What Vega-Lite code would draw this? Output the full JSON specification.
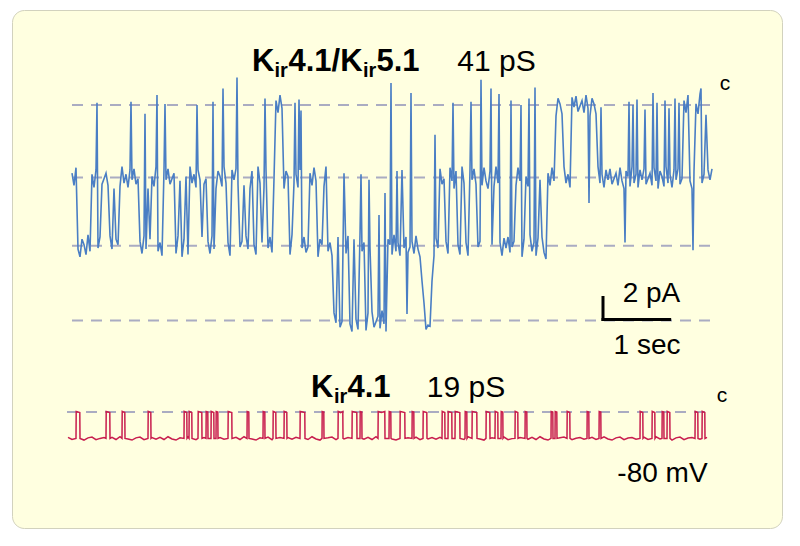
{
"$schema":"https://vega.github.io/schema/vega-lite/v6.json",
"width":800,"height":546,
"autosize":{"type":"fit","contains":"padding"},
"padding":{"left":12,"top":10,"right":18,"bottom":18},
"background":"#ffffff",
"config":{"view":{"fill":"#FFFFE0","stroke":"#D2D2BE","cornerRadius":12},"font":"Liberation Sans"},
"datasets":{
"blue":[{"t":0,"v":-6.2},{"t":30,"v":-7.3},{"t":60,"v":-5.7},{"t":90,"v":-13.1},{"t":120,"v":-13.8},{"t":150,"v":-12.2},{"t":180,"v":-12.7},{"t":210,"v":-13.6},{"t":240,"v":-11.8},{"t":270,"v":-13.3},{"t":300,"v":-6.3},{"t":330,"v":-7.5},{"t":360,"v":-5.9},{"t":375,"v":0.2},{"t":390,"v":-13.0},{"t":420,"v":-12.0},{"t":450,"v":-7.2},{"t":480,"v":-6.7},{"t":510,"v":-6.2},{"t":540,"v":-7.3},{"t":570,"v":-11.9},{"t":600,"v":-13.1},{"t":630,"v":-7.6},{"t":660,"v":-12.2},{"t":690,"v":-12.7},{"t":720,"v":-7.4},{"t":750,"v":-5.6},{"t":780,"v":-7.1},{"t":810,"v":-6.3},{"t":840,"v":-7.5},{"t":870,"v":-5.9},{"t":885,"v":0.3},{"t":900,"v":-6.8},{"t":930,"v":-5.8},{"t":960,"v":-7.2},{"t":990,"v":-6.7},{"t":1020,"v":-12.4},{"t":1050,"v":-13.5},{"t":1080,"v":-11.9},{"t":1095,"v":-0.8},{"t":1110,"v":-13.1},{"t":1140,"v":-7.6},{"t":1170,"v":-12.2},{"t":1200,"v":-6.5},{"t":1230,"v":-7.4},{"t":1260,"v":-5.6},{"t":1275,"v":0.9},{"t":1290,"v":-13.3},{"t":1320,"v":-12.5},{"t":1350,"v":-13.7},{"t":1380,"v":-5.9},{"t":1395,"v":0.1},{"t":1410,"v":-6.8},{"t":1440,"v":-5.8},{"t":1470,"v":-7.2},{"t":1500,"v":-6.7},{"t":1530,"v":-6.2},{"t":1560,"v":-13.5},{"t":1590,"v":-11.9},{"t":1620,"v":-6.9},{"t":1650,"v":-13.8},{"t":1680,"v":-12.2},{"t":1710,"v":-6.5},{"t":1740,"v":-13.6},{"t":1770,"v":-5.6},{"t":1800,"v":-7.1},{"t":1830,"v":-6.3},{"t":1860,"v":-7.5},{"t":1875,"v":0.0},{"t":1890,"v":-5.9},{"t":1920,"v":-6.8},{"t":1950,"v":-12.0},{"t":1980,"v":-7.2},{"t":2010,"v":-6.7},{"t":2040,"v":-12.4},{"t":2070,"v":-13.5},{"t":2100,"v":-11.9},{"t":2115,"v":0.3},{"t":2130,"v":-13.1},{"t":2160,"v":-7.6},{"t":2190,"v":-6.0},{"t":2220,"v":-6.5},{"t":2250,"v":-7.4},{"t":2265,"v":1.5},{"t":2280,"v":-5.6},{"t":2310,"v":-7.1},{"t":2340,"v":-12.5},{"t":2370,"v":-13.7},{"t":2400,"v":-5.9},{"t":2430,"v":-6.8},{"t":2460,"v":-5.8},{"t":2475,"v":2.5},{"t":2490,"v":-7.2},{"t":2520,"v":-12.9},{"t":2550,"v":-12.4},{"t":2580,"v":-7.3},{"t":2610,"v":-11.9},{"t":2640,"v":-13.1},{"t":2670,"v":-7.6},{"t":2700,"v":-6.0},{"t":2730,"v":-12.7},{"t":2760,"v":-13.6},{"t":2790,"v":-5.6},{"t":2820,"v":-7.1},{"t":2850,"v":-12.5},{"t":2880,"v":-7.5},{"t":2895,"v":0.6},{"t":2910,"v":-5.9},{"t":2940,"v":-13.0},{"t":2970,"v":-12.0},{"t":3000,"v":-13.4},{"t":3030,"v":-6.7},{"t":3060,"v":0.4},{"t":3090,"v":-0.7},{"t":3120,"v":0.9},{"t":3150,"v":-0.3},{"t":3180,"v":-7.6},{"t":3210,"v":-6.0},{"t":3240,"v":-6.5},{"t":3270,"v":-13.6},{"t":3300,"v":-11.8},{"t":3330,"v":-7.1},{"t":3345,"v":0.2},{"t":3360,"v":-6.3},{"t":3390,"v":-7.5},{"t":3405,"v":0.5},{"t":3420,"v":-5.9},{"t":3435,"v":-0.5},{"t":3450,"v":-13.0},{"t":3480,"v":-12.0},{"t":3510,"v":-13.4},{"t":3540,"v":-12.9},{"t":3570,"v":-6.2},{"t":3600,"v":-7.3},{"t":3630,"v":-5.7},{"t":3660,"v":-6.9},{"t":3690,"v":-13.8},{"t":3720,"v":-12.2},{"t":3750,"v":-12.7},{"t":3780,"v":-7.4},{"t":3810,"v":-5.6},{"t":3840,"v":-13.3},{"t":3870,"v":-12.5},{"t":3900,"v":-13.7},{"t":3930,"v":-18.9},{"t":3960,"v":-19.8},{"t":3990,"v":-12.0},{"t":4020,"v":-20.2},{"t":4050,"v":-19.7},{"t":4080,"v":-6.2},{"t":4110,"v":-13.5},{"t":4140,"v":-11.9},{"t":4170,"v":-19.9},{"t":4200,"v":-20.6},{"t":4230,"v":-12.2},{"t":4260,"v":-19.5},{"t":4290,"v":-20.4},{"t":4320,"v":-11.8},{"t":4335,"v":-6.3},{"t":4350,"v":-13.3},{"t":4380,"v":-12.5},{"t":4410,"v":-20.5},{"t":4440,"v":-18.9},{"t":4455,"v":-6.8},{"t":4470,"v":-13.0},{"t":4500,"v":-18.8},{"t":4530,"v":-20.2},{"t":4560,"v":-19.7},{"t":4590,"v":-19.2},{"t":4605,"v":-10.0},{"t":4620,"v":-20.3},{"t":4650,"v":-18.7},{"t":4680,"v":-19.9},{"t":4695,"v":-8.0},{"t":4710,"v":-20.6},{"t":4740,"v":-12.2},{"t":4770,"v":-12.7},{"t":4785,"v":2.0},{"t":4800,"v":-13.6},{"t":4830,"v":-11.8},{"t":4860,"v":-13.3},{"t":4875,"v":-6.0},{"t":4890,"v":-12.5},{"t":4920,"v":-13.7},{"t":4950,"v":-5.9},{"t":4980,"v":-13.0},{"t":5010,"v":-12.0},{"t":5025,"v":-19.0},{"t":5040,"v":-13.4},{"t":5070,"v":-12.9},{"t":5085,"v":1.1},{"t":5100,"v":-12.4},{"t":5130,"v":-13.5},{"t":5160,"v":-11.9},{"t":5190,"v":-13.1},{"t":5220,"v":-13.8},{"t":5250,"v":-16.0},{"t":5280,"v":-18.0},{"t":5310,"v":-20.4},{"t":5340,"v":-20.0},{"t":5370,"v":-20.1},{"t":5400,"v":-16.0},{"t":5430,"v":-13.7},{"t":5445,"v":-2.7},{"t":5460,"v":-12.1},{"t":5490,"v":-13.0},{"t":5520,"v":-5.8},{"t":5550,"v":-7.2},{"t":5580,"v":-6.7},{"t":5610,"v":-12.4},{"t":5640,"v":-13.5},{"t":5670,"v":-5.7},{"t":5700,"v":-6.9},{"t":5715,"v":0.2},{"t":5730,"v":-7.6},{"t":5760,"v":-6.0},{"t":5790,"v":-12.7},{"t":5820,"v":-13.6},{"t":5850,"v":-5.6},{"t":5880,"v":-7.1},{"t":5910,"v":-12.5},{"t":5940,"v":-13.7},{"t":5970,"v":-5.9},{"t":5985,"v":0.3},{"t":6000,"v":-6.8},{"t":6030,"v":-5.8},{"t":6060,"v":-7.2},{"t":6090,"v":-12.9},{"t":6120,"v":-12.4},{"t":6135,"v":2.3},{"t":6150,"v":-7.3},{"t":6180,"v":-5.7},{"t":6210,"v":-6.9},{"t":6240,"v":-7.6},{"t":6270,"v":-6.0},{"t":6285,"v":1.5},{"t":6300,"v":-12.7},{"t":6330,"v":-7.4},{"t":6360,"v":-5.6},{"t":6390,"v":-7.1},{"t":6405,"v":1.0},{"t":6420,"v":-12.5},{"t":6450,"v":-13.7},{"t":6480,"v":-12.1},{"t":6510,"v":-13.0},{"t":6540,"v":-12.0},{"t":6570,"v":-13.4},{"t":6585,"v":0.4},{"t":6600,"v":-12.9},{"t":6630,"v":-12.4},{"t":6660,"v":-7.3},{"t":6690,"v":-5.7},{"t":6720,"v":-6.9},{"t":6735,"v":0.0},{"t":6750,"v":-13.8},{"t":6780,"v":-12.2},{"t":6810,"v":-6.5},{"t":6840,"v":-7.4},{"t":6855,"v":0.6},{"t":6870,"v":-11.8},{"t":6900,"v":-13.3},{"t":6930,"v":-12.5},{"t":6945,"v":1.6},{"t":6960,"v":-13.7},{"t":6990,"v":-12.1},{"t":7020,"v":-6.8},{"t":7050,"v":-12.0},{"t":7080,"v":-13.4},{"t":7110,"v":-14.0},{"t":7140,"v":-6.2},{"t":7170,"v":-7.3},{"t":7200,"v":-5.7},{"t":7230,"v":-6.9},{"t":7260,"v":-1.0},{"t":7290,"v":0.6},{"t":7320,"v":0.1},{"t":7350,"v":-0.8},{"t":7380,"v":-5.6},{"t":7410,"v":-7.1},{"t":7440,"v":-6.3},{"t":7470,"v":-7.5},{"t":7500,"v":0.7},{"t":7530,"v":-0.2},{"t":7560,"v":0.8},{"t":7590,"v":-0.6},{"t":7620,"v":-0.1},{"t":7650,"v":0.4},{"t":7680,"v":-0.7},{"t":7710,"v":0.9},{"t":7740,"v":-0.3},{"t":7755,"v":-8.9},{"t":7770,"v":-1.0},{"t":7800,"v":0.6},{"t":7830,"v":0.1},{"t":7860,"v":-0.8},{"t":7890,"v":-5.6},{"t":7920,"v":-7.1},{"t":7935,"v":-0.2},{"t":7950,"v":-6.3},{"t":7980,"v":-7.5},{"t":8010,"v":-5.9},{"t":8040,"v":-6.8},{"t":8070,"v":-5.8},{"t":8100,"v":-7.2},{"t":8130,"v":-6.7},{"t":8160,"v":-6.2},{"t":8190,"v":-7.3},{"t":8220,"v":-5.7},{"t":8250,"v":-6.9},{"t":8280,"v":-7.6},{"t":8295,"v":-12.5},{"t":8310,"v":-6.0},{"t":8340,"v":-6.5},{"t":8355,"v":0.3},{"t":8370,"v":-7.4},{"t":8400,"v":-5.6},{"t":8415,"v":0.0},{"t":8430,"v":-7.1},{"t":8460,"v":-6.3},{"t":8475,"v":0.5},{"t":8490,"v":-7.5},{"t":8520,"v":-5.9},{"t":8550,"v":-6.8},{"t":8580,"v":-5.8},{"t":8595,"v":-0.4},{"t":8610,"v":-7.2},{"t":8640,"v":-6.7},{"t":8670,"v":-6.2},{"t":8700,"v":-7.3},{"t":8715,"v":1.1},{"t":8730,"v":-5.7},{"t":8760,"v":-6.9},{"t":8775,"v":0.2},{"t":8790,"v":-7.6},{"t":8820,"v":-6.0},{"t":8850,"v":-6.5},{"t":8880,"v":-7.4},{"t":8895,"v":0.4},{"t":8910,"v":-5.6},{"t":8940,"v":-7.1},{"t":8955,"v":-0.3},{"t":8970,"v":-6.3},{"t":9000,"v":-7.5},{"t":9030,"v":-5.9},{"t":9045,"v":0.6},{"t":9060,"v":-6.8},{"t":9090,"v":-5.8},{"t":9105,"v":0.2},{"t":9120,"v":-7.2},{"t":9150,"v":-6.7},{"t":9180,"v":0.4},{"t":9210,"v":-0.7},{"t":9240,"v":0.9},{"t":9270,"v":-6.9},{"t":9300,"v":-7.6},{"t":9315,"v":-13.2},{"t":9330,"v":-6.0},{"t":9360,"v":0.1},{"t":9390,"v":-0.8},{"t":9420,"v":1.0},{"t":9435,"v":1.5},{"t":9450,"v":-7.1},{"t":9480,"v":-6.3},{"t":9510,"v":-0.9},{"t":9540,"v":-5.9},{"t":9570,"v":-6.8},{"t":9600,"v":-5.8}],
"red":[{"t":-60,"v":-2.3},{"t":0,"v":-2.5},{"t":60,"v":-2.4},{"t":63,"v":0.05},{"t":117,"v":-0.05},{"t":120,"v":-2.4},{"t":180,"v":-2.55},{"t":240,"v":-2.35},{"t":300,"v":-2.28},{"t":360,"v":-2.52},{"t":420,"v":-2.4},{"t":480,"v":-2.32},{"t":510,"v":-2.4},{"t":513,"v":0.05},{"t":567,"v":-0.05},{"t":570,"v":-2.4},{"t":600,"v":-2.3},{"t":660,"v":-2.5},{"t":720,"v":-2.25},{"t":750,"v":-2.4},{"t":753,"v":0.05},{"t":792,"v":-0.05},{"t":795,"v":-2.4},{"t":840,"v":-2.45},{"t":900,"v":-2.55},{"t":960,"v":-2.35},{"t":1020,"v":-2.28},{"t":1080,"v":-2.52},{"t":1140,"v":-2.4},{"t":1143,"v":0.05},{"t":1182,"v":-0.05},{"t":1185,"v":-2.4},{"t":1200,"v":-2.32},{"t":1260,"v":-2.48},{"t":1320,"v":-2.3},{"t":1380,"v":-2.5},{"t":1440,"v":-2.25},{"t":1500,"v":-2.45},{"t":1560,"v":-2.55},{"t":1620,"v":-2.35},{"t":1680,"v":-2.4},{"t":1683,"v":0.05},{"t":1722,"v":-0.05},{"t":1725,"v":-2.4},{"t":1740,"v":-2.28},{"t":1755,"v":-2.4},{"t":1758,"v":0.05},{"t":1797,"v":-0.05},{"t":1800,"v":-2.4},{"t":1860,"v":-2.52},{"t":1890,"v":-2.4},{"t":1893,"v":0.05},{"t":1947,"v":-0.05},{"t":1950,"v":-2.4},{"t":1980,"v":-2.32},{"t":2010,"v":-2.4},{"t":2013,"v":0.05},{"t":2037,"v":0.0},{"t":2040,"v":-2.4},{"t":2085,"v":-2.4},{"t":2088,"v":0.05},{"t":2127,"v":-0.05},{"t":2130,"v":-2.4},{"t":2160,"v":-2.4},{"t":2163,"v":0.05},{"t":2187,"v":0.0},{"t":2190,"v":-2.4},{"t":2220,"v":-2.32},{"t":2280,"v":-2.48},{"t":2340,"v":-2.4},{"t":2343,"v":0.05},{"t":2397,"v":-0.05},{"t":2400,"v":-2.4},{"t":2460,"v":-2.3},{"t":2520,"v":-2.5},{"t":2580,"v":-2.25},{"t":2625,"v":-2.4},{"t":2628,"v":0.05},{"t":2652,"v":0.0},{"t":2655,"v":-2.4},{"t":2700,"v":-2.45},{"t":2760,"v":-2.55},{"t":2820,"v":-2.35},{"t":2865,"v":-2.4},{"t":2868,"v":0.05},{"t":2892,"v":0.0},{"t":2895,"v":-2.4},{"t":2940,"v":-2.28},{"t":3000,"v":-2.52},{"t":3015,"v":-2.4},{"t":3018,"v":0.05},{"t":3057,"v":-0.05},{"t":3060,"v":-2.4},{"t":3120,"v":-2.33},{"t":3180,"v":-2.4},{"t":3183,"v":0.05},{"t":3222,"v":-0.05},{"t":3225,"v":-2.4},{"t":3240,"v":-2.32},{"t":3300,"v":-2.48},{"t":3360,"v":-2.3},{"t":3420,"v":-2.4},{"t":3423,"v":0.05},{"t":3460,"v":0.0},{"t":3492,"v":-0.05},{"t":3495,"v":-2.4},{"t":3540,"v":-2.5},{"t":3600,"v":-2.25},{"t":3660,"v":-2.45},{"t":3720,"v":-2.55},{"t":3750,"v":-2.4},{"t":3753,"v":0.05},{"t":3777,"v":0.0},{"t":3780,"v":-2.4},{"t":3840,"v":-2.35},{"t":3900,"v":-2.28},{"t":3960,"v":-2.52},{"t":3990,"v":-2.4},{"t":3993,"v":0.05},{"t":4030,"v":-0.05},{"t":4062,"v":0.05},{"t":4065,"v":-2.4},{"t":4080,"v":-2.45},{"t":4140,"v":-2.32},{"t":4200,"v":-2.4},{"t":4203,"v":0.05},{"t":4272,"v":-0.05},{"t":4275,"v":-2.4},{"t":4320,"v":-2.4},{"t":4323,"v":0.05},{"t":4347,"v":0.0},{"t":4350,"v":-2.4},{"t":4380,"v":-2.48},{"t":4440,"v":-2.3},{"t":4500,"v":-2.5},{"t":4560,"v":-2.25},{"t":4590,"v":-2.4},{"t":4593,"v":0.05},{"t":4640,"v":-0.05},{"t":4692,"v":0.05},{"t":4695,"v":-2.4},{"t":4755,"v":-2.4},{"t":4758,"v":0.05},{"t":4782,"v":0.0},{"t":4785,"v":-2.4},{"t":4800,"v":-2.45},{"t":4860,"v":-2.55},{"t":4920,"v":-2.4},{"t":4923,"v":0.05},{"t":4992,"v":-0.05},{"t":4995,"v":-2.4},{"t":5040,"v":-2.35},{"t":5100,"v":-2.4},{"t":5103,"v":0.05},{"t":5127,"v":0.0},{"t":5130,"v":-2.4},{"t":5160,"v":-2.28},{"t":5220,"v":-2.52},{"t":5265,"v":-2.4},{"t":5268,"v":0.05},{"t":5322,"v":-0.05},{"t":5325,"v":-2.4},{"t":5340,"v":-2.45},{"t":5400,"v":-2.32},{"t":5460,"v":-2.48},{"t":5520,"v":-2.3},{"t":5550,"v":-2.4},{"t":5553,"v":0.05},{"t":5592,"v":-0.05},{"t":5595,"v":-2.4},{"t":5640,"v":-2.4},{"t":5643,"v":0.05},{"t":5697,"v":-0.05},{"t":5700,"v":-2.4},{"t":5745,"v":-2.4},{"t":5748,"v":0.05},{"t":5817,"v":-0.05},{"t":5820,"v":-2.4},{"t":5880,"v":-2.5},{"t":5895,"v":-2.4},{"t":5898,"v":0.05},{"t":5922,"v":0.0},{"t":5925,"v":-2.4},{"t":5940,"v":-2.25},{"t":6000,"v":-2.4},{"t":6003,"v":0.05},{"t":6072,"v":-0.05},{"t":6075,"v":-2.4},{"t":6120,"v":-2.45},{"t":6180,"v":-2.55},{"t":6210,"v":-2.4},{"t":6213,"v":0.05},{"t":6267,"v":-0.05},{"t":6270,"v":-2.4},{"t":6300,"v":-2.35},{"t":6345,"v":-2.4},{"t":6348,"v":0.05},{"t":6387,"v":-0.05},{"t":6390,"v":-2.4},{"t":6435,"v":-2.4},{"t":6438,"v":0.05},{"t":6462,"v":0.0},{"t":6465,"v":-2.4},{"t":6480,"v":-2.28},{"t":6540,"v":-2.52},{"t":6600,"v":-2.42},{"t":6645,"v":-2.4},{"t":6648,"v":0.05},{"t":6687,"v":-0.05},{"t":6690,"v":-2.4},{"t":6720,"v":-2.32},{"t":6795,"v":-2.4},{"t":6798,"v":0.05},{"t":6822,"v":0.0},{"t":6825,"v":-2.4},{"t":6840,"v":-2.48},{"t":6900,"v":-2.3},{"t":6960,"v":-2.5},{"t":7020,"v":-2.25},{"t":7080,"v":-2.45},{"t":7140,"v":-2.55},{"t":7185,"v":-2.4},{"t":7188,"v":0.05},{"t":7212,"v":0.0},{"t":7215,"v":-2.4},{"t":7245,"v":-2.4},{"t":7248,"v":0.05},{"t":7272,"v":0.0},{"t":7275,"v":-2.4},{"t":7320,"v":-2.35},{"t":7380,"v":-2.28},{"t":7425,"v":-2.4},{"t":7428,"v":0.05},{"t":7467,"v":-0.05},{"t":7470,"v":-2.4},{"t":7500,"v":-2.52},{"t":7560,"v":-2.38},{"t":7620,"v":-2.32},{"t":7680,"v":-2.48},{"t":7725,"v":-2.4},{"t":7728,"v":0.05},{"t":7752,"v":0.0},{"t":7755,"v":-2.4},{"t":7800,"v":-2.3},{"t":7860,"v":-2.5},{"t":7905,"v":-2.4},{"t":7908,"v":0.05},{"t":7932,"v":0.0},{"t":7935,"v":-2.4},{"t":7980,"v":-2.25},{"t":8040,"v":-2.45},{"t":8100,"v":-2.55},{"t":8160,"v":-2.35},{"t":8220,"v":-2.28},{"t":8280,"v":-2.52},{"t":8340,"v":-2.36},{"t":8400,"v":-2.32},{"t":8460,"v":-2.48},{"t":8520,"v":-2.4},{"t":8523,"v":0.05},{"t":8562,"v":-0.05},{"t":8565,"v":-2.4},{"t":8580,"v":-2.3},{"t":8640,"v":-2.5},{"t":8700,"v":-2.4},{"t":8703,"v":0.05},{"t":8742,"v":-0.05},{"t":8745,"v":-2.4},{"t":8760,"v":-2.25},{"t":8820,"v":-2.45},{"t":8850,"v":-2.4},{"t":8853,"v":0.05},{"t":8877,"v":0.0},{"t":8880,"v":-2.4},{"t":8925,"v":-2.4},{"t":8928,"v":0.05},{"t":8967,"v":-0.05},{"t":8970,"v":-2.4},{"t":9000,"v":-2.55},{"t":9060,"v":-2.35},{"t":9120,"v":-2.28},{"t":9180,"v":-2.52},{"t":9240,"v":-2.37},{"t":9300,"v":-2.32},{"t":9345,"v":-2.4},{"t":9348,"v":0.05},{"t":9387,"v":-0.05},{"t":9390,"v":-2.4},{"t":9420,"v":-2.48},{"t":9450,"v":-2.4},{"t":9453,"v":0.05},{"t":9492,"v":-0.05},{"t":9495,"v":-2.4},{"t":9525,"v":-2.3}],
"levels":[{"t":0,"t2":9600,"v":0},{"t":0,"t2":9600,"v":-6.6},{"t":0,"t2":9600,"v":-12.8},{"t":0,"t2":9600,"v":-19.6}],
"redlevels":[{"t":-75,"t2":9495,"v":0}],
"bar":[{"t":7965,"t2":7965,"v":-19.5,"v2":-17.5},{"t":7965,"t2":8965,"v":-19.5,"v2":-19.5}],
"boldMain":[{"t":2700,"v":3.05,"s":"K"},{"t":3247,"v":3.05,"s":"4.1/K"},{"t":4567,"v":3.05,"s":"5.1"},{"t":3585,"v":-26.55,"s":"K"},{"t":4132,"v":-26.55,"s":"4.1"}],
"boldSub":[{"t":3037,"v":2.55,"s":"ir"},{"t":4365,"v":2.55,"s":"ir"},{"t":3930,"v":-27.05,"s":"ir"}],
"reg30":[{"t":6367,"v":3.05,"s":"41 pS"},{"t":5910,"v":-26.55,"s":"19 pS"}],
"reg28":[{"t":8692,"v":-17.9,"s":"2 pA"},{"t":8625,"v":-22.64,"s":"1 sec"},{"t":8857,"v":-34.27,"s":"-80 mV"}],
"cs":[{"t":9795,"v":1.36,"s":"c"},{"t":9750,"v":-27.0,"s":"c"}]
},
"encoding":{"x":{"field":"t","type":"quantitative","scale":{"domain":[-900,10650],"nice":false,"zero":false},"axis":null}},
"layer":[
{"encoding":{"y":{"field":"v","type":"quantitative","scale":{"domain":[-38.455,8.636],"nice":false,"zero":false},"axis":null}},
"layer":[
{"data":{"name":"levels"},"mark":{"type":"rule","color":"#AAACC2","strokeWidth":2,"strokeDash":[11,8]},"encoding":{"x2":{"field":"t2"}}},
{"data":{"name":"blue"},"mark":{"type":"line","color":"#4A7EC4","strokeWidth":1.6}},
{"data":{"name":"bar"},"mark":{"type":"rule","color":"#000000","strokeWidth":3,"strokeCap":"square"},"encoding":{"x2":{"field":"t2"},"y2":{"field":"v2"}}},
{"data":{"name":"boldMain"},"mark":{"type":"text","align":"left","baseline":"alphabetic","fontWeight":"bold","fontSize":31,"color":"#000000"},"encoding":{"text":{"field":"s"}}},
{"data":{"name":"boldSub"},"mark":{"type":"text","align":"left","baseline":"alphabetic","fontWeight":"bold","fontSize":20,"color":"#000000"},"encoding":{"text":{"field":"s"}}},
{"data":{"name":"reg30"},"mark":{"type":"text","align":"center","baseline":"alphabetic","fontSize":30,"color":"#000000"},"encoding":{"text":{"field":"s"}}},
{"data":{"name":"reg28"},"mark":{"type":"text","align":"center","baseline":"alphabetic","fontSize":28,"color":"#000000"},"encoding":{"text":{"field":"s"}}},
{"data":{"name":"cs"},"mark":{"type":"text","align":"center","baseline":"alphabetic","fontSize":21,"color":"#000000"},"encoding":{"text":{"field":"s"}}}
]},
{"encoding":{"y":{"field":"v","type":"quantitative","scale":{"domain":[-10.545,36.545],"nice":false,"zero":false},"axis":null}},
"layer":[
{"data":{"name":"redlevels"},"mark":{"type":"rule","color":"#AAACC2","strokeWidth":2,"strokeDash":[11,8]},"encoding":{"x2":{"field":"t2"}}},
{"data":{"name":"red"},"mark":{"type":"line","color":"#C81E4E","strokeWidth":1.5}}
]}
],
"resolve":{"scale":{"y":"independent"}}
}
